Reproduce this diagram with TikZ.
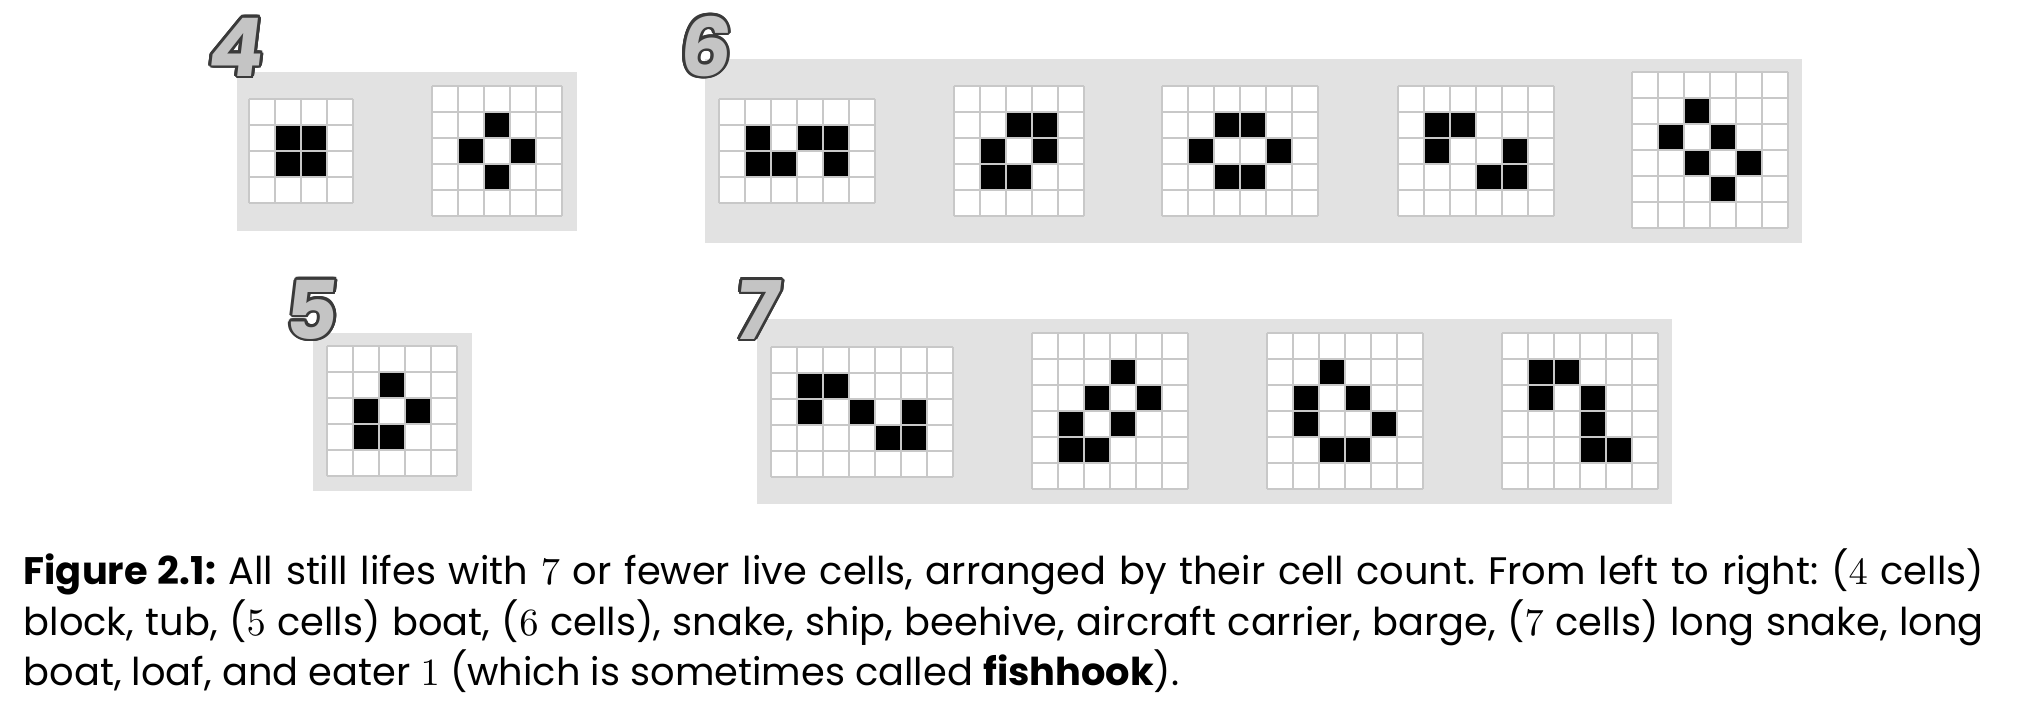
\documentclass[tikz,border=0pt]{standalone}
\usepackage{fontspec}
\setmainfont{Poppins}
\newfontfamily\countfont{Poppins}[FakeSlant=0.12]
\usetikzlibrary{calc}

\definecolor{panelgray}{HTML}{E2E2E2}
\definecolor{gridgray}{HTML}{C8C8C8}
\definecolor{countgray}{HTML}{C4C4C4}
\definecolor{edgegray}{HTML}{3A3A3A}

% #1,#2 top left corner, #3 columns, #4 rows, #5 live cells (col/row)
\newcommand{\lifegrid}[5]{%
  \fill[white] (#1,#2) rectangle ++(#3*26,#4*26);
  \foreach \c/\r in {#5}
    \fill[live] (#1+\c*26,#2+\r*26) rectangle ++(26,26);
  \foreach \i in {0,...,#3}
    \draw[gridline] (#1+\i*26,#2) -- ++(0,#4*26);
  \foreach \j in {0,...,#4}
    \draw[gridline] (#1,#2+\j*26) -- ++(#3*26,0);
}

% #1 name, #2 base point, #3 digit
\newcommand{\cellcount}[3]{%
  \foreach \a in {0,20,...,340}
    \node[countlabel, text=edgegray] at ($(#2)+(\a:0.8pt)$) {#3};
  \node[countlabel] (#1) at (#2) {#3};
}

\begin{document}
\begin{tikzpicture}[x=0.01cm, y=-0.01cm,
    panel/.style={fill=panelgray},
    gridline/.style={draw=gridgray, line width=0.7pt},
    live/.style={fill=black},
    countlabel/.style={anchor=base, inner sep=0pt, text=countgray,
      font=\countfont\bfseries\fontsize{23}{23}\selectfont}]
  \useasboundingbox (0,0) rectangle (2022,712);

  % Panels
  \fill[panel] (237,72) rectangle (577,231);
  \fill[panel] (705,59) rectangle (1802,243);
  \fill[panel] (313,333) rectangle (472,491);
  \fill[panel] (757,319) rectangle (1672,504);

  % 4 cells
  \lifegrid{249}{99}{4}{4}{1/1,2/1,1/2,2/2}
  \lifegrid{432}{86}{5}{5}{2/1,1/2,3/2,2/3}

  % 5 cells
  \lifegrid{327}{346}{5}{5}{2/1,1/2,3/2,1/3,2/3}

  % 6 cells
  \lifegrid{719}{99}{6}{4}{1/1,3/1,4/1,1/2,2/2,4/2}
  \lifegrid{954}{86}{5}{5}{2/1,3/1,1/2,3/2,1/3,2/3}
  \lifegrid{1162}{86}{6}{5}{2/1,3/1,1/2,4/2,2/3,3/3}
  \lifegrid{1398}{86}{6}{5}{1/1,2/1,1/2,4/2,3/3,4/3}
  \lifegrid{1632}{72}{6}{6}{2/1,1/2,3/2,2/3,4/3,3/4}

  % 7 cells
  \lifegrid{771}{347}{7}{5}{1/1,2/1,1/2,3/2,5/2,4/3,5/3}
  \lifegrid{1032}{333}{6}{6}{3/1,2/2,4/2,1/3,3/3,1/4,2/4}
  \lifegrid{1267}{333}{6}{6}{2/1,1/2,3/2,1/3,4/3,2/4,3/4}
  \lifegrid{1502}{333}{6}{6}{1/1,2/1,1/2,3/2,3/3,3/4,4/4}

  % Cell counts
  \coordinate (c4) at (234,76);
  \coordinate (c6) at (703,76);
  \coordinate (c5) at (309,339);
  \coordinate (c7) at (755,339);
  \cellcount{count4}{c4}{4}
  \cellcount{count6}{c6}{6}
  \cellcount{count5}{c5}{5}
  \cellcount{count7}{c7}{7}

  % Caption
  \node[anchor=north west, inner sep=0pt, text width=19.59cm, align=justify,
    font=\fontsize{10.9}{14.4}\selectfont\frenchspacing] (caption) at (23,548)
    {\textbf{Figure 2.1:} All still lifes with $7$ or fewer live cells, arranged by their cell count. From left to right: ($4$ cells)\linebreak
     block, tub, ($5$ cells) boat, ($6$ cells), snake, ship, beehive, aircraft carrier, barge, ($7$ cells) long snake, long\linebreak
     boat, loaf, and eater $1$ (which is sometimes called \textbf{fishhook}).};
\end{tikzpicture}
\end{document}
